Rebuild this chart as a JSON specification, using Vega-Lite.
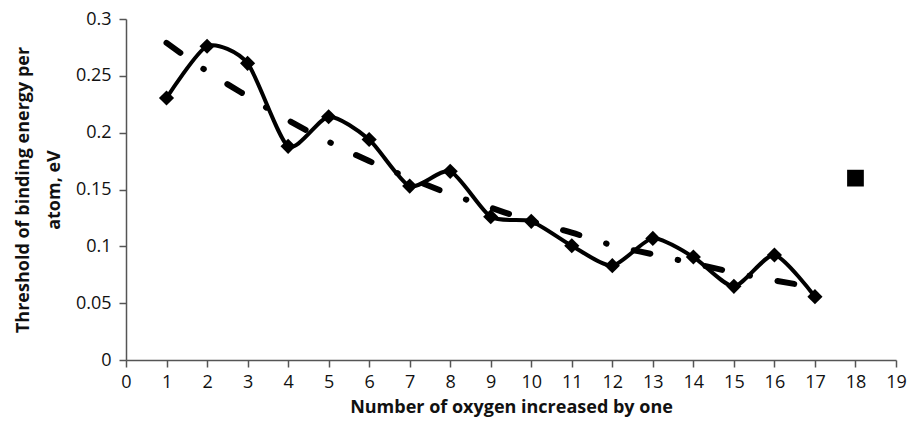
{
  "$schema": "https://vega.github.io/schema/vega-lite/v6.json",
  "width": 770,
  "height": 341,
  "autosize": "none",
  "padding": {"left": 126, "top": 19, "right": 21, "bottom": 66},
  "background": "white",
  "config": {
    "view": {"stroke": null},
    "axis": {
      "grid": false,
      "domainColor": "#555",
      "domainWidth": 1.5,
      "tickColor": "#555",
      "tickWidth": 1.5,
      "tickSize": 7,
      "labelFont": "Open Sans",
      "labelFontSize": 18,
      "labelColor": "#111",
      "titleFont": "Open Sans",
      "titleFontSize": 18,
      "titleFontWeight": "bold",
      "titleColor": "#111"
    }
  },
  "datasets": {
    "main": [
      {"n": 1, "energy": 0.2305, "trend": 0.279},
      {"n": 2, "energy": 0.276, "trend": 0.254},
      {"n": 3, "energy": 0.261, "trend": 0.232},
      {"n": 4, "energy": 0.188, "trend": 0.211},
      {"n": 5, "energy": 0.214, "trend": 0.192},
      {"n": 6, "energy": 0.194, "trend": 0.175},
      {"n": 7, "energy": 0.153, "trend": 0.160},
      {"n": 8, "energy": 0.166, "trend": 0.146},
      {"n": 9, "energy": 0.126, "trend": 0.134},
      {"n": 10, "energy": 0.122, "trend": 0.122},
      {"n": 11, "energy": 0.1005, "trend": 0.112},
      {"n": 12, "energy": 0.083, "trend": 0.101},
      {"n": 13, "energy": 0.107, "trend": 0.093},
      {"n": 14, "energy": 0.0906, "trend": 0.085},
      {"n": 15, "energy": 0.0648, "trend": 0.077},
      {"n": 16, "energy": 0.0924, "trend": 0.070},
      {"n": 17, "energy": 0.0557, "trend": 0.064}
    ],
    "extra": [
      {"n": 18, "energy": 0.16}
    ]
  },
  "layer": [
    {
      "data": {"name": "main"},
      "mark": {"type": "line", "interpolate": "monotone", "color": "black", "strokeWidth": 6, "strokeDash": [17, 28, 0.5, 28], "strokeCap": "round"},
      "encoding": {
        "x": {"field": "n", "type": "quantitative", "scale": {"domain": [0, 19], "nice": false, "zero": false},
          "axis": {"title": "Number of oxygen increased by one", "values": [0,1,2,3,4,5,6,7,8,9,10,11,12,13,14,15,16,17,18,19], "labelFontSize": 18, "titleFontSize": 18, "labelPadding": 6, "titlePadding": 7, "labelFlush": false}},
        "y": {"field": "trend", "type": "quantitative", "scale": {"domain": [0, 0.3], "nice": false},
          "axis": {"title": ["Threshold of binding energy per", "atom, eV"], "values": [0, 0.05, 0.1, 0.15, 0.2, 0.25, 0.3], "format": ".2~f", "labelFontSize": 18, "titleFontSize": 18, "labelPadding": 8, "titlePadding": 12, "titleLineHeight": 31, "labelFlush": false}}
      }
    },
    {
      "data": {"name": "main"},
      "mark": {"type": "line", "interpolate": "cardinal", "tension": 0.3, "color": "black", "strokeWidth": 4},
      "encoding": {
        "x": {"field": "n", "type": "quantitative"},
        "y": {"field": "energy", "type": "quantitative"}
      }
    },
    {
      "data": {"name": "main"},
      "mark": {"type": "point", "shape": "diamond", "filled": true, "color": "black", "size": 230, "opacity": 1},
      "encoding": {
        "x": {"field": "n", "type": "quantitative"},
        "y": {"field": "energy", "type": "quantitative"}
      }
    },
    {
      "data": {"name": "extra"},
      "mark": {"type": "point", "shape": "square", "filled": true, "color": "black", "size": 280, "opacity": 1},
      "encoding": {
        "x": {"field": "n", "type": "quantitative"},
        "y": {"field": "energy", "type": "quantitative"}
      }
    }
  ]
}
